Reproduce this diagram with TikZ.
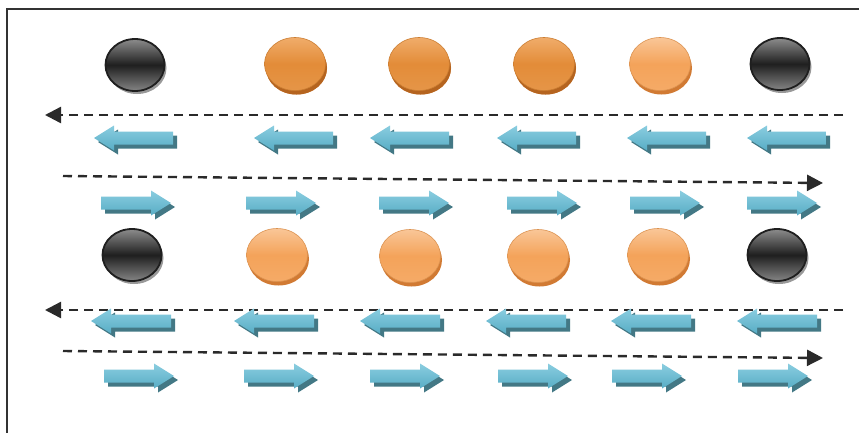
\documentclass[tikz,border=0pt]{standalone}
\usetikzlibrary{shapes.geometric,shadows,arrows.meta}
\definecolor{arrtop}{HTML}{8ACDE0}
\definecolor{arrbot}{HTML}{58ADC5}
\definecolor{arrsh}{HTML}{437885}
\definecolor{ortop}{HTML}{F9C697}
\definecolor{ormid}{HTML}{F4A35A}
\definecolor{orrim}{HTML}{D17A33}
\definecolor{odtop}{HTML}{F0AC6A}
\definecolor{odmid}{HTML}{E38C38}
\definecolor{odrim}{HTML}{B5641F}
\definecolor{dashc}{HTML}{2A2A2A}
\begin{document}
\begin{tikzpicture}[x=1pt,y=-1pt,
  frameline/.style={draw=black!80,line width=2pt},
  dline/.style={draw=dashc,line width=2.4pt,dash pattern=on 9pt off 6pt},
  tipl/.style={-{Triangle[length=16pt,width=16pt]}},
  bball/.style={ellipse,minimum width=59pt,minimum height=52pt,inner sep=0pt,
    draw=black!88,line width=1.8pt,
    top color=black!45,bottom color=black!48,middle color=black!88,
    drop shadow={shadow xshift=2pt,shadow yshift=-3pt,fill=black!40,opacity=1}},
  oball/.style={ellipse,minimum width=61pt,minimum height=53pt,inner sep=0pt,
    draw=ormid!90!black,line width=0.6pt,
    top color=ortop,bottom color=ormid!92!white,middle color=ormid,
    drop shadow={shadow xshift=1.5pt,shadow yshift=-4pt,fill=orrim,opacity=1}},
  odball/.style={oball,draw=odmid!90!black,
    top color=odtop,bottom color=odmid!92!white,middle color=odmid,
    drop shadow={shadow xshift=1.5pt,shadow yshift=-4pt,fill=odrim,opacity=1}},
  pics/rarr/.style={code={
    \fill[arrsh,shift={(4,4)}] (0,-6.5) -- ({#1-20},-6.5) -- ({#1-20},-12.5) -- (#1,0)
      -- ({#1-20},12.5) -- ({#1-20},6.5) -- (0,6.5) -- cycle;
    \shade[top color=arrtop,bottom color=arrbot] (0,-6.5) -- ({#1-20},-6.5) -- ({#1-20},-12.5) -- (#1,0)
      -- ({#1-20},12.5) -- ({#1-20},6.5) -- (0,6.5) -- cycle;}},
  pics/larr/.style={code={
    \fill[arrsh,shift={(4,4)}] (0,0) -- (20,-12.5) -- (20,-6.5) -- (#1,-6.5)
      -- (#1,6.5) -- (20,6.5) -- (20,12.5) -- cycle;
    \shade[top color=arrtop,bottom color=arrbot] (0,0) -- (20,-12.5) -- (20,-6.5) -- (#1,-6.5)
      -- (#1,6.5) -- (20,6.5) -- (20,12.5) -- cycle;}}
]
\useasboundingbox (0,0) rectangle (859,432);
\fill[white] (0,0) rectangle (859,432);
\draw[frameline] (7,433) -- (7,9) -- (860,9);

% row 1 balls
\node[bball]  (a1) at (135,65) {};
\node[odball] (a2) at (295,64) {};
\node[odball] (a3) at (419,64) {};
\node[odball] (a4) at (544,64) {};
\node[oball]  (a5) at (660,64) {};
\node[bball]  (a6) at (780,64) {};

% row 3 balls
\node[bball]  (c1) at (132,255) {};
\node[oball]  (c2) at (277,255) {};
\node[oball]  (c3) at (410,256) {};
\node[oball]  (c4) at (538,256) {};
\node[oball]  (c5) at (658,255) {};
\node[bball]  (c6) at (777,255) {};

% dashed flow lines
\coordinate (d1s) at (843,115);
\coordinate (d1e) at (45,115);
\draw[dline,tipl] (d1s) -- (d1e);
\coordinate (d2s) at (63,176);
\coordinate (d2e) at (823,183);
\draw[dline,tipl] (d2s) -- (d2e);
\coordinate (d3s) at (843,310);
\coordinate (d3e) at (45,310);
\draw[dline,tipl] (d3s) -- (d3e);
\coordinate (d4s) at (63,351);
\coordinate (d4e) at (823,358);
\draw[dline,tipl] (d4s) -- (d4e);

% row 1 left arrows
\foreach \x in {94,254,370,497,627,747} \pic at (\x,138) {larr=79};
% row 2 right arrows
\foreach \x in {101,246,379,507,630,747} \pic at (\x,203) {rarr=70};
% row 3 left arrows
\foreach \x in {91,234,360,486,611,737} \pic at (\x,321) {larr=80};
% row 4 right arrows
\foreach \x in {104,244,370,498,612,738} \pic at (\x,376) {rarr=70};
\end{tikzpicture}
\end{document}
